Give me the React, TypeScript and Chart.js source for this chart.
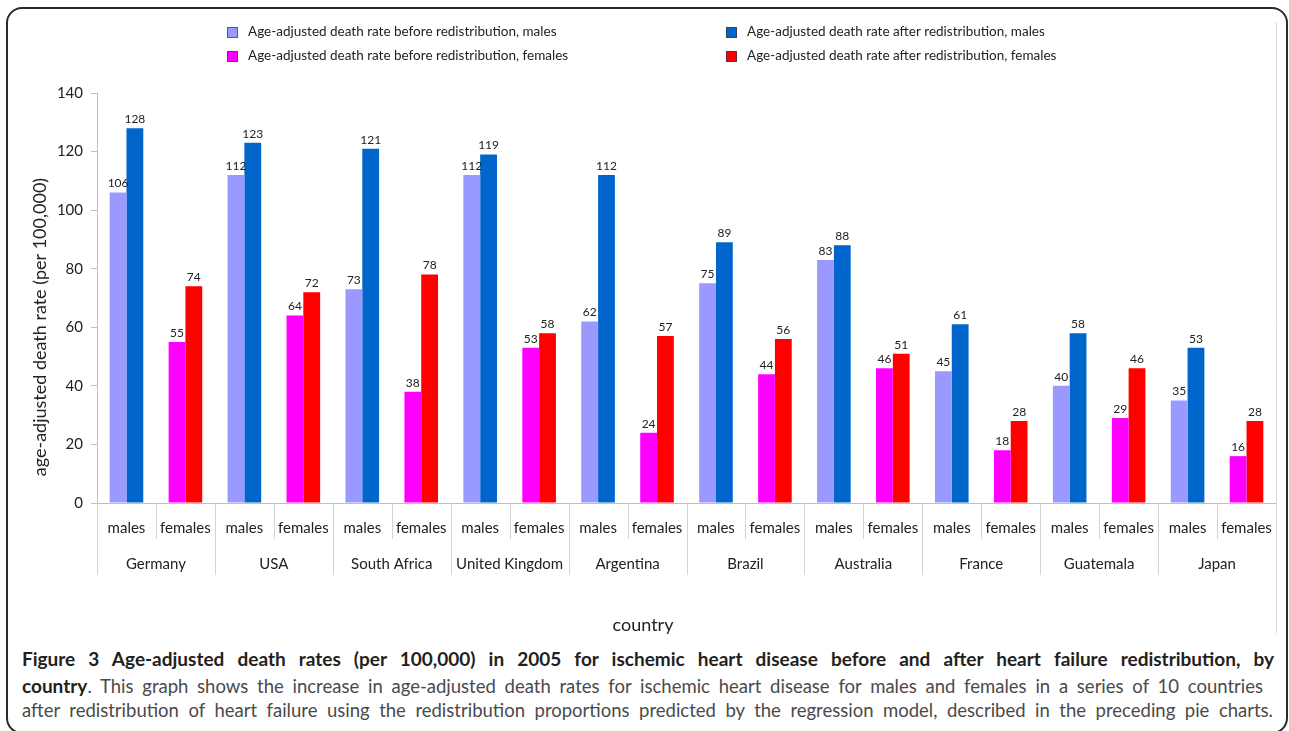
import { Chart, registerables } from 'chart.js';
import type { Plugin } from 'chart.js';
import { useEffect, useLayoutEffect, useRef } from 'react';

Chart.register(...registerables);

const countries = [
  'Germany',
  'USA',
  'South Africa',
  'United Kingdom',
  'Argentina',
  'Brazil',
  'Australia',
  'France',
  'Guatemala',
  'Japan',
];
const sexes = ['males', 'females'];

const beforeMales = [106, 112, 73, 112, 62, 75, 83, 45, 40, 35];
const afterMales = [128, 123, 121, 119, 112, 89, 88, 61, 58, 53];
const beforeFemales = [55, 64, 38, 53, 24, 44, 46, 18, 29, 16];
const afterFemales = [74, 72, 78, 58, 57, 56, 51, 28, 46, 28];

const yMin = 0;
const yMax = 140;
const yStep = 20;

const FONT = 'Lato, "Open Sans", sans-serif';

// one category per country and sex: [sex, country]
const labels = countries.flatMap((c) => sexes.map((s) => [s, c]));
const malesOnly = (vals: number[]) => vals.flatMap((v) => [v, null]);
const femalesOnly = (vals: number[]) => vals.flatMap((v) => [null, v]);

const valueLabels: Plugin<'bar'> = {
  id: 'valueLabels',
  afterDatasetsDraw(chart) {
    const { ctx } = chart;
    ctx.save();
    ctx.font = `12px ${FONT}`;
    ctx.fillStyle = '#222';
    ctx.textAlign = 'center';
    ctx.textBaseline = 'bottom';
    chart.data.datasets.forEach((ds, i) => {
      const meta = chart.getDatasetMeta(i);
      meta.data.forEach((bar: any, j) => {
        const v = ds.data[j];
        if (v == null) return;
        ctx.fillText(String(v), bar.x, bar.y - 3);
      });
    });
    ctx.restore();
  },
};

const groupAxis: Plugin<'bar'> = {
  id: 'groupAxis',
  afterDraw(chart) {
    const { ctx, chartArea: area } = chart;
    const xs = chart.scales.x;
    const cats = chart.data.labels as string[][];
    const n = cats.length;
    const w = (area.right - area.left) / n;
    ctx.save();
    ctx.strokeStyle = '#d4d4d4';
    ctx.lineWidth = 1;
    for (let i = 0; i <= n; i++) {
      const x = Math.round(area.left + i * w) + 0.5;
      const y2 = i % 2 === 0 ? area.bottom + 72 : area.bottom + 36;
      ctx.beginPath();
      ctx.moveTo(x, area.bottom);
      ctx.lineTo(x, y2);
      ctx.stroke();
    }
    // frame line on the right of the chart image
    ctx.strokeStyle = '#d9d9d9';
    ctx.beginPath();
    ctx.moveTo(area.right + 0.5, 22);
    ctx.lineTo(area.right + 0.5, 633);
    ctx.stroke();

    ctx.fillStyle = '#222';
    ctx.textAlign = 'center';
    ctx.textBaseline = 'middle';
    ctx.font = `15px ${FONT}`;
    cats.forEach((lab, i) => {
      ctx.fillText(lab[0], xs.getPixelForValue(i), area.bottom + 25);
    });
    for (let i = 0; i < n; i += 2) {
      const cx = (xs.getPixelForValue(i) + xs.getPixelForValue(i + 1)) / 2;
      ctx.fillText(cats[i][1], cx, area.bottom + 61);
    }
    ctx.font = `18px ${FONT}`;
    ctx.fillText('country', 643, 625);

    ctx.save();
    ctx.translate(40, 327);
    ctx.rotate(-Math.PI / 2);
    ctx.fillText('age-adjusted death rate (per 100,000)', 0, 0);
    ctx.restore();
    ctx.restore();
  },
};

const legendBoxes: Plugin<'bar'> = {
  id: 'legendBoxes',
  afterDraw(chart) {
    const { ctx } = chart;
    const cols = [227, 726];
    const rows = [32, 56];
    ctx.save();
    ctx.font = `13.5px ${FONT}`;
    ctx.textBaseline = 'middle';
    ctx.textAlign = 'left';
    chart.data.datasets.forEach((ds, i) => {
      const x = cols[Math.floor(i / 2)];
      const y = rows[i % 2];
      ctx.fillStyle = ds.backgroundColor as string;
      ctx.fillRect(x, y - 5, 11, 11);
      ctx.strokeStyle = 'rgba(60,60,60,0.7)';
      ctx.lineWidth = 1;
      ctx.strokeRect(x + 0.5, y - 4.5, 10, 10);
      ctx.fillStyle = '#222';
      ctx.fillText(ds.label as string, x + 21, y);
    });
    ctx.restore();
  },
};

const BarChart = () => {
  const canvasRef = useRef<HTMLCanvasElement>(null);
  const chartRef = useRef<Chart | null>(null);

  useEffect(() => {
    const ctx = canvasRef.current?.getContext('2d');
    if (!ctx) return;
    chartRef.current = new Chart(ctx, {
      type: 'bar',
      data: {
        labels: labels,
        datasets: [
          {
            label: 'Age-adjusted death rate before redistribution, males',
            data: malesOnly(beforeMales),
            backgroundColor: '#9999FF',
            stack: 'before',
          },
          {
            label: 'Age-adjusted death rate before redistribution, females',
            data: femalesOnly(beforeFemales),
            backgroundColor: '#FF00FF',
            stack: 'before',
          },
          {
            label: 'Age-adjusted death rate after redistribution, males',
            data: malesOnly(afterMales),
            backgroundColor: '#0066CC',
            stack: 'after',
          },
          {
            label: 'Age-adjusted death rate after redistribution, females',
            data: femalesOnly(afterFemales),
            backgroundColor: '#FF0000',
            stack: 'after',
          },
        ],
      },
      options: {
        animation: false,
        responsive: false,
        datasets: {
          bar: { categoryPercentage: 0.57, barPercentage: 1 },
        },
        layout: { padding: { top: 93, right: 13, bottom: 0, left: 0 } },
        plugins: {
          legend: { display: false },
          tooltip: { enabled: false },
        },
        scales: {
          x: {
            stacked: true,
            grid: { display: false },
            border: { color: '#bfbfbf' },
            ticks: { display: false },
            afterFit: (scale) => {
              scale.height = 142;
            },
          },
          y: {
            stacked: true,
            min: yMin,
            max: yMax,
            grid: {
              drawOnChartArea: false,
              drawTicks: true,
              tickLength: 6,
              color: '#bfbfbf',
            },
            border: { color: '#bfbfbf' },
            ticks: {
              stepSize: yStep,
              padding: 8,
              color: '#222',
              font: { family: FONT, size: 15 },
            },
            afterFit: (scale) => {
              scale.width = 97;
            },
          },
        },
      },
      plugins: [valueLabels, groupAxis, legendBoxes],
    });
    return () => {
      if (chartRef.current) {
        chartRef.current.destroy();
        chartRef.current = null;
      }
    };
  }, []);

  return (
    <canvas
      ref={canvasRef}
      width={1289}
      height={645}
      style={{ position: 'absolute', left: 0, top: 0, width: 1289, height: 645 }}
    />
  );
};

// caption lines, each stretched to the width it has in the figure
const captionLines = [
  {
    target: 1252,
    parts: [
      {
        bold: true,
        text: 'Figure 3 Age-adjusted death rates (per 100,000) in 2005 for ischemic heart disease before and after heart failure redistribution, by',
      },
    ],
  },
  {
    target: 1241,
    parts: [
      { bold: true, text: 'country' },
      {
        bold: false,
        text: '. This graph shows the increase in age-adjusted death rates for ischemic heart disease for males and females in a series of 10 countries',
      },
    ],
  },
  {
    target: 1251,
    parts: [
      {
        bold: false,
        text: 'after redistribution of heart failure using the redistribution proportions predicted by the regression model, described in the preceding pie charts.',
      },
    ],
  },
];

const Caption = () => {
  const refs = useRef<(HTMLDivElement | null)[]>([]);

  useLayoutEffect(() => {
    const fit = () => {
      refs.current.forEach((el, i) => {
        if (!el) return;
        el.style.wordSpacing = '0px';
        const natural = el.getBoundingClientRect().width;
        const spaces = (el.textContent || '').split(' ').length - 1;
        const ws = (captionLines[i].target - natural) / Math.max(spaces, 1);
        el.style.wordSpacing = `${ws}px`;
      });
    };
    fit();
    document.fonts?.ready.then(fit);
  }, []);

  const tops = [647, 674, 698];
  return (
    <>
      {captionLines.map((line, i) => (
        <div
          key={i}
          ref={(el) => {
            refs.current[i] = el;
          }}
          style={{
            position: 'absolute',
            left: 22,
            top: tops[i],
            whiteSpace: 'nowrap',
            lineHeight: '24px',
            fontFamily: FONT,
            fontSize: 18.5,
            color: '#4a4a4a',
          }}
        >
          {line.parts.map((p, j) => (
            <span
              key={j}
              style={
                p.bold
                  ? { fontWeight: 700, color: '#231f20', fontSize: 19 }
                  : undefined
              }
            >
              {p.text}
            </span>
          ))}
        </div>
      ))}
    </>
  );
};

export default function App() {
  return (
    <div
      style={{
        position: 'absolute',
        left: 0,
        top: 0,
        width: 1289,
        height: 731,
        overflow: 'hidden',
        background: '#fff',
      }}
    >
      <div
        style={{
          position: 'absolute',
          left: 6,
          top: 7,
          width: 1282,
          height: 727,
          boxSizing: 'border-box',
          border: '2px solid #2a2a2a',
          borderRadius: 16,
        }}
      />
      <BarChart />
      <Caption />
    </div>
  );
}
